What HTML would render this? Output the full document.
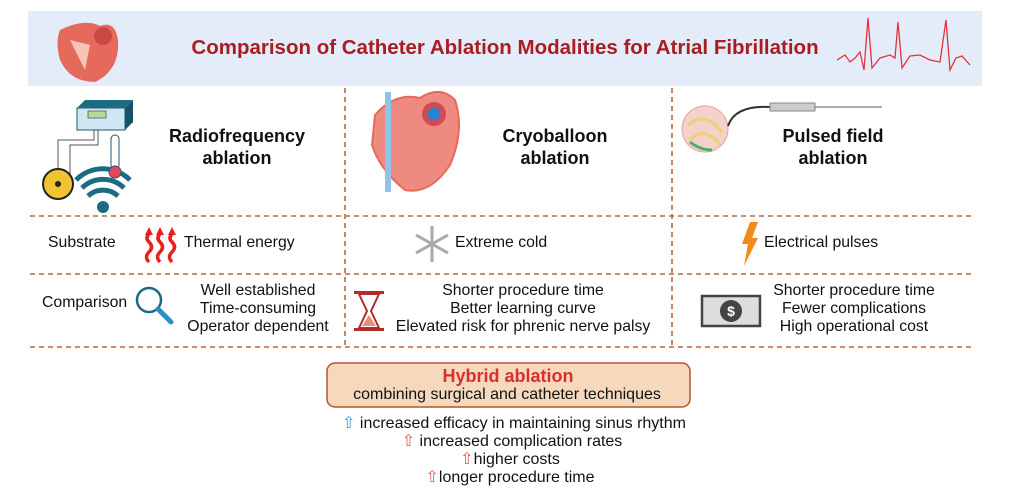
<!DOCTYPE html>
<html><head><meta charset="utf-8"><style>
body{margin:0;width:1019px;height:496px;background:#fff;position:relative;overflow:hidden;font-family:"Liberation Sans",Arial,sans-serif;color:#111}
.t{position:absolute;white-space:nowrap;line-height:18px}
.c{text-align:center;transform:translateX(-50%)}
.b{font-weight:bold;font-size:18px;line-height:22px}
.s{font-size:15.8px}
</style></head><body>
<svg width="1019" height="496" style="position:absolute;left:0;top:0">
<rect x="28" y="11" width="954" height="75" fill="#e4ecf9"/>
<g stroke="#b8693c" stroke-width="1.6" stroke-dasharray="5,4" fill="none">
<line x1="30" y1="216" x2="975" y2="216"/>
<line x1="30" y1="274" x2="975" y2="274"/>
<line x1="30" y1="347" x2="975" y2="347"/>
<line x1="345" y1="88" x2="345" y2="347"/>
<line x1="672" y1="88" x2="672" y2="347"/>
</g>
<path d="M60 30 Q85 18 100 26 Q115 20 118 40 Q120 70 95 82 Q70 82 60 60 Q55 42 60 30Z" fill="#e66a5c"/>
<path d="M70 40 L90 45 L85 70 Z" fill="#f6c3b6"/>
<circle cx="103" cy="36" r="9" fill="#c94a44"/>
<polyline points="837,60 845,55 850,62 855,58 860,52 864,70 868,18 872,68 880,58 890,55 895,58 898,22 902,68 910,56 920,55 930,60 940,62 946,20 950,70 956,58 962,56 970,65" fill="none" stroke="#e8303a" stroke-width="1.3"/>
<rect x="77" y="108" width="48" height="22" fill="#cfe7f2" stroke="#1c5a6e" stroke-width="1"/>
<polygon points="77,108 85,100 133,100 125,108" fill="#1c6b82"/>
<polygon points="125,108 133,100 133,122 125,130" fill="#155467"/>
<rect x="88" y="111" width="18" height="7" fill="#b8d8a0" stroke="#333" stroke-width=".6"/>
<path d="M94 130 L94 140 L58 140 L58 175 M98 130 L98 145 L70 145 L70 175" stroke="#555" fill="none" stroke-width="1"/>
<path d="M88 196 a22 22 0 0 1 30 0 M82 188 a30 30 0 0 1 42 0 M76 180 a38 38 0 0 1 54 0" stroke="#1c6b82" stroke-width="5" fill="none"/>
<circle cx="103" cy="207" r="6" fill="#1c6b82"/>
<circle cx="58" cy="184" r="15" fill="#f1c232" stroke="#222" stroke-width="2"/>
<circle cx="58" cy="184" r="3" fill="#222"/>
<rect x="111" y="135" width="8" height="34" rx="4" fill="#fff" stroke="#1c5a6e"/>
<circle cx="115" cy="172" r="6" fill="#e8475a" stroke="#1c5a6e"/>
<path d="M375 115 Q395 92 420 98 Q440 85 455 100 Q465 130 450 165 Q430 195 405 190 Q380 170 372 145 Z" fill="#ee8a80" stroke="#e66a5c" stroke-width="2"/>
<circle cx="434" cy="114" r="12" fill="#cf4b55"/>
<circle cx="434" cy="114" r="6" fill="#1e88d8"/>
<rect x="385" y="92" width="6" height="100" fill="#8fc4e8"/>
<circle cx="705" cy="129" r="23" fill="#f3d2cc" stroke="#e8a0a0"/>
<path d="M688 125 Q705 110 722 132 M690 140 Q705 125 720 145" stroke="#f0d070" stroke-width="3" fill="none"/>
<path d="M690 142 Q700 150 712 150" stroke="#4caf60" stroke-width="3" fill="none"/>
<path d="M728 126 Q735 105 770 107" stroke="#333" stroke-width="2" fill="none"/>
<rect x="770" y="103" width="45" height="8" fill="#ccc" stroke="#888"/>
<line x1="815" y1="107" x2="882" y2="107" stroke="#555" stroke-width="1"/>
<g stroke="#e82020" stroke-width="3.5" fill="none"><path d="M149 262 q-5 -5 0 -10 q5 -5 0 -10 q-4 -4 0 -8"/><path d="M160 262 q-5 -5 0 -10 q5 -5 0 -10 q-4 -4 0 -8"/><path d="M172 262 q-5 -5 0 -10 q5 -5 0 -10 q-4 -4 0 -8"/></g>
<g fill="#e82020"><polygon points="145,235 149,227 153,235"/><polygon points="156,235 160,227 164,235"/><polygon points="168,235 172,227 176,235"/></g>
<g stroke="#aaa" stroke-width="3"><line x1="432" y1="226" x2="432" y2="262"/><line x1="416" y1="235" x2="448" y2="253"/><line x1="416" y1="253" x2="448" y2="235"/></g>
<polygon points="750,222 758,222 752,238 758,238 744,266 748,244 742,244" fill="#f08a1c"/>
<circle cx="149" cy="300" r="12" fill="none" stroke="#1c6b82" stroke-width="2.5"/>
<line x1="158" y1="309" x2="171" y2="322" stroke="#2a8fc4" stroke-width="5" stroke-linecap="round"/>
<rect x="354" y="291" width="30" height="3" fill="#b52a2a"/><rect x="354" y="328" width="30" height="3" fill="#b52a2a"/>
<path d="M359 294 L379 294 L371 311 L379 328 L359 328 L367 311 Z" fill="#fff" stroke="#b52a2a" stroke-width="2"/>
<path d="M362 326 L369 315 L376 326Z" fill="#e8907a"/>
<rect x="702" y="296" width="58" height="30" fill="#ddd" stroke="#444" stroke-width="2.5"/>
<circle cx="731" cy="311" r="11" fill="#444"/>
<text x="731" y="316" fill="#fff" font-size="14" font-weight="bold" text-anchor="middle" font-family="Liberation Sans">$</text>
<rect x="327" y="363" width="363" height="44" rx="8" fill="#f6d9bd" stroke="#b5552a" stroke-width="1.5"/>
</svg>
<div class="t c" style="left:505px;top:36px;font-size:20.5px;font-weight:bold;color:#a81c22;line-height:24px">Comparison of Catheter Ablation Modalities for Atrial Fibrillation</div>
<div class="t c b" style="left:237px;top:125px">Radiofrequency<br>ablation</div>
<div class="t c b" style="left:555px;top:125px">Cryoballoon<br>ablation</div>
<div class="t c b" style="left:833px;top:125px">Pulsed field<br>ablation</div>
<div class="t s" style="left:48px;top:234px">Substrate</div>
<div class="t s" style="left:184px;top:234px">Thermal energy</div>
<div class="t s" style="left:455px;top:234px">Extreme cold</div>
<div class="t s" style="left:764px;top:234px">Electrical pulses</div>
<div class="t s" style="left:42px;top:294px">Comparison</div>
<div class="t c s" style="left:258px;top:282px">Well established<br>Time-consuming<br>Operator dependent</div>
<div class="t c s" style="left:523px;top:282px">Shorter procedure time<br>Better learning curve<br>Elevated risk for phrenic nerve palsy</div>
<div class="t c s" style="left:854px;top:282px">Shorter procedure time<br>Fewer complications<br>High operational cost</div>
<div class="t c" style="left:508px;top:366px;font-size:18px;font-weight:bold;color:#d9302c;line-height:20px">Hybrid ablation</div>
<div class="t c" style="left:507px;top:386px;font-size:16px">combining surgical and catheter techniques</div>
<div class="t c" style="left:514px;top:415px;font-size:16px"><span style="color:#2a9ad8">⇧</span> increased efficacy in maintaining sinus rhythm</div>
<div class="t c" style="left:512px;top:433px;font-size:16px"><span style="color:#e05050">⇧</span> increased complication rates</div>
<div class="t c" style="left:510px;top:451px;font-size:16px"><span style="color:#e05050">⇧</span>higher costs</div>
<div class="t c" style="left:510px;top:469px;font-size:16px"><span style="color:#e05050">⇧</span>longer procedure time</div>
</body></html>
